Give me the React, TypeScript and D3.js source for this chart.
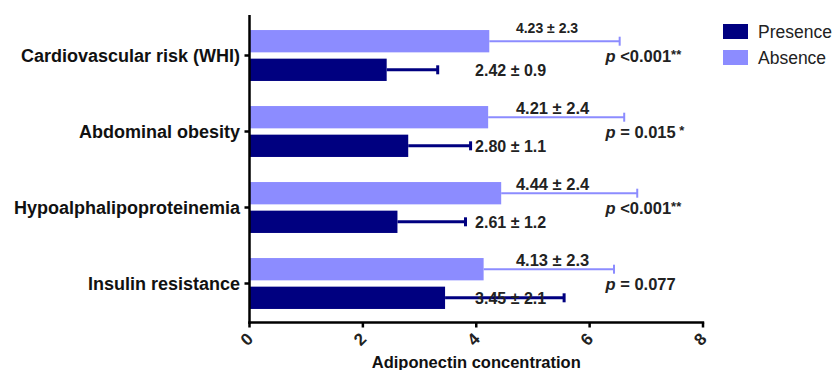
import React from 'react';
import * as d3 from 'd3';

const categories = [
  'Cardiovascular risk (WHI)',
  'Abdominal obesity',
  'Hypoalphalipoproteinemia',
  'Insulin resistance',
];
const seriesNames = ['Absence', 'Presence'];
const absenceMean = [4.23, 4.21, 4.44, 4.13];
const absenceSD = [2.3, 2.4, 2.4, 2.3];
const presenceMean = [2.42, 2.8, 2.61, 3.45];
const presenceSD = [0.9, 1.1, 1.2, 2.1];
const pText = ['<0.001', '= 0.015', '<0.001', '= 0.077'];
const pStars = ['**', ' *', '**', ''];
const xTicks = [0, 2, 4, 6, 8];

const W = 835;
const H = 370;
const font = '"Liberation Sans", Arial, sans-serif';
const dark = '#000080';
const light = '#8c8cff';

const App = () => {
  const x = d3.scaleLinear().domain([0, 8]).range([249.5, 703]);
  const y = d3
    .scaleBand<string>()
    .domain(categories)
    .range([17.5, 321.5])
    .paddingInner(0.33)
    .paddingOuter(0.165);
  const inner = d3
    .scaleBand<string>()
    .domain(seriesNames)
    .range([0, y.bandwidth()])
    .paddingInner(0.22);

  const rows = categories.map((c, i) => ({
    cat: c,
    bars: [
      { name: 'Absence', mean: absenceMean[i], sd: absenceSD[i], color: light, sw: 2 },
      { name: 'Presence', mean: presenceMean[i], sd: presenceSD[i], color: dark, sw: 3 },
    ],
  }));

  const axisY = 322.5;

  return (
    <svg
      width={W}
      height={H}
      style={{ position: 'absolute', left: 0, top: 0, background: '#fff' }}
      fontFamily={font}
    >
      {rows.map((r, i) => {
        const gy = y(r.cat)!;
        const center = gy + y.bandwidth() / 2;
        return (
          <g key={r.cat}>
            {r.bars.map((b) => {
              const by = gy + inner(b.name)!;
              const bh = inner.bandwidth();
              const cy = by + bh / 2;
              const xe = x(b.mean + b.sd);
              return (
                <g key={b.name}>
                  <rect x={x(0)} y={by} width={x(b.mean) - x(0)} height={bh} fill={b.color} />
                  <line x1={x(b.mean)} x2={xe} y1={cy} y2={cy} stroke={b.color} strokeWidth={b.sw} />
                  <line x1={xe} x2={xe} y1={cy - 4.5} y2={cy + 4.5} stroke={b.color} strokeWidth={b.sw} />
                  {b.name === 'Absence' ? (
                    <text
                      x={x(4.7)}
                      y={by + (i === 0 ? 3 : 8)}
                      fontSize={i === 0 ? 14 : 16.5}
                      fontWeight="bold"
                      fill="#222"
                    >
                      {`${b.mean.toFixed(2)} ± ${b.sd.toFixed(1)}`}
                    </text>
                  ) : (
                    <text x={x(3.98)} y={cy} dy="0.36em" fontSize={16} fontWeight="bold" fill="#222">
                      {`${b.mean.toFixed(2)} ± ${b.sd.toFixed(1)}`}
                    </text>
                  )}
                </g>
              );
            })}
            <text x={x(6.28)} y={center + 1} dy="0.36em" fontSize={16.5} fontWeight="bold" fill="#222">
              <tspan fontStyle="italic">p</tspan>
              <tspan>{` ${pText[i]}`}</tspan>
              {pStars[i] && (
                <tspan fontSize={13} dy={-3}>
                  {pStars[i]}
                </tspan>
              )}
            </text>
            <line x1={244.5} x2={249.5} y1={center} y2={center} stroke="#000" strokeWidth={2.5} />
            <text x={240} y={center} dy="0.36em" textAnchor="end" fontSize={18} fontWeight="bold" fill="#111">
              {r.cat}
            </text>
          </g>
        );
      })}

      {/* axes */}
      <line x1={x(0)} x2={x(0)} y1={15} y2={axisY + 1.2} stroke="#000" strokeWidth={2.5} />
      <line x1={x(0) - 1.2} x2={x(8) + 1.2} y1={axisY} y2={axisY} stroke="#000" strokeWidth={2.5} />
      {xTicks.map((t) => (
        <g key={t}>
          <line x1={x(t)} x2={x(t)} y1={axisY} y2={axisY + 5} stroke="#000" strokeWidth={2.5} />
          <text
            x={x(t) - 3}
            y={339}
            dy="0.36em"
            textAnchor="middle"
            fontSize={17}
            fontWeight="bold"
            fill="#222"
            transform={`rotate(-45, ${x(t) - 3}, 339)`}
          >
            {t}
          </text>
        </g>
      ))}
      <text x={x(4)} y={368} textAnchor="middle" fontSize={16.5} fontWeight="bold" fill="#111">
        Adiponectin concentration
      </text>

      {/* legend */}
      {['Presence', 'Absence'].map((n, i) => (
        <g key={n} transform={`translate(723, ${24 + i * 26})`}>
          <rect width={25} height={15} fill={n === 'Presence' ? dark : light} />
          <text x={35} y={7.5} dy="0.36em" fontSize={17.5} fill="#222">
            {n}
          </text>
        </g>
      ))}
    </svg>
  );
};

export default App;
